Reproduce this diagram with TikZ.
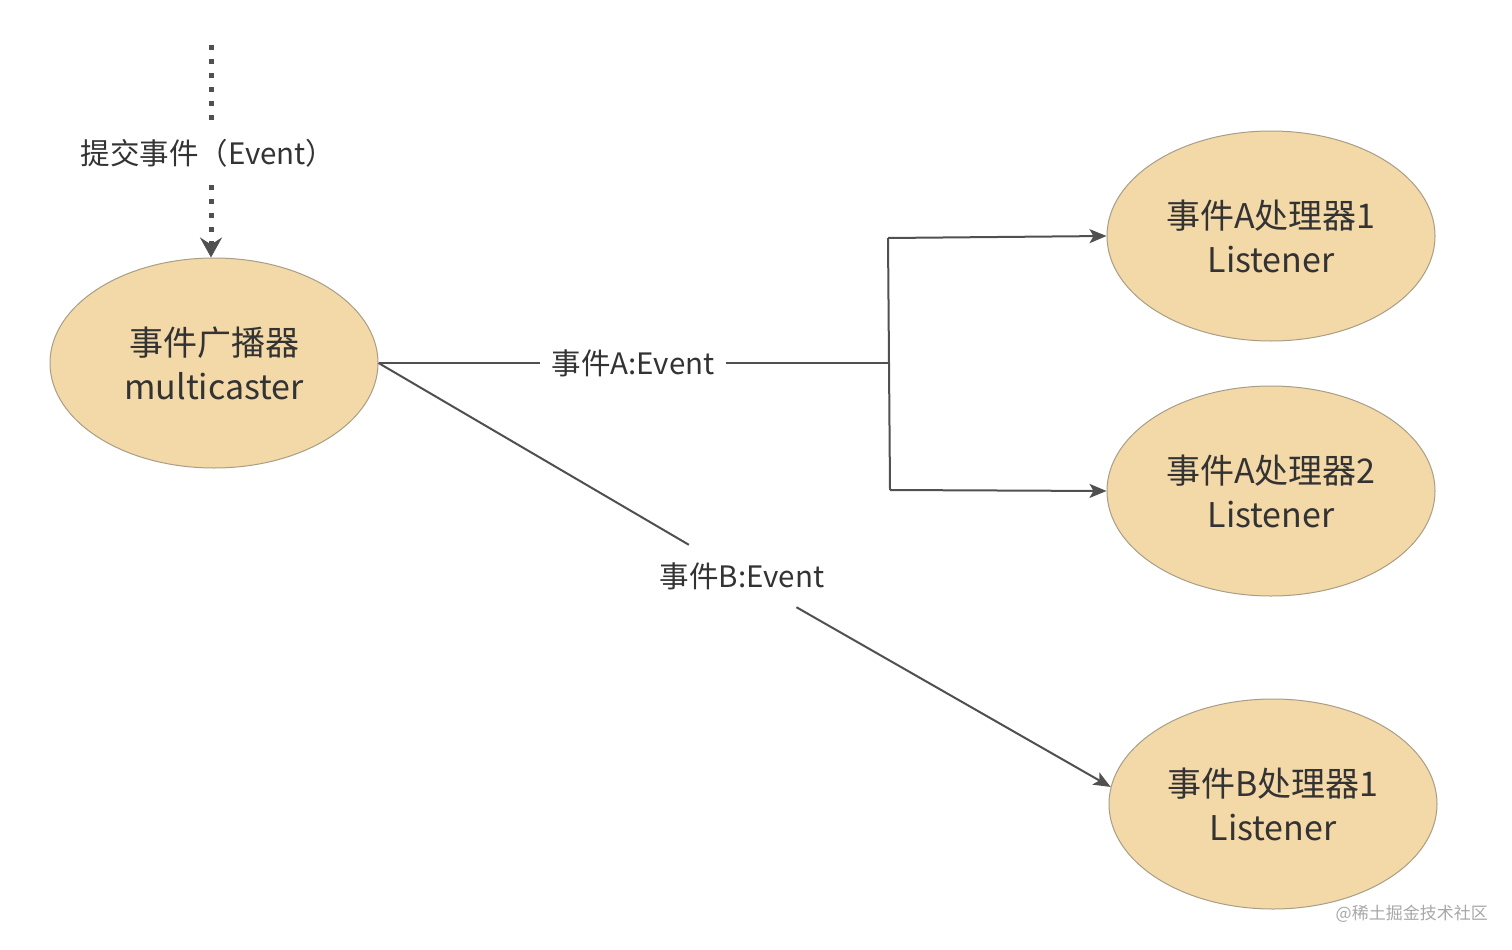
\documentclass[tikz,border=0pt]{standalone}
\usepackage{fontspec}
\setmainfont{Noto Sans CJK SC}
\usetikzlibrary{arrows.meta,shapes.geometric}
\definecolor{fillc}{HTML}{F3D8A8}
\definecolor{edgec}{HTML}{A89E86}
\definecolor{linec}{HTML}{505050}
\definecolor{txtc}{HTML}{333333}
\definecolor{wmc}{HTML}{A8A8A8}
\begin{document}
\begin{tikzpicture}[x=1pt,y=-1pt,
  ell/.style={ellipse, draw=edgec, fill=fillc, line width=1pt, minimum width=328pt, minimum height=210pt, inner sep=0pt, align=center, font=\fontsize{34}{44}\selectfont, text=txtc},
  lab/.style={font=\fontsize{29.5}{34}\selectfont, text=txtc, inner xsep=11pt, minimum height=62pt},
  conn/.style={draw=linec, line width=2pt},
  tip/.style={-{Stealth[length=17pt,width=14pt,inset=4pt]}},
  dots/.style={draw=linec, line width=5pt, dash pattern=on 5pt off 9pt},
  dtip/.style={-{Stealth[length=20pt,width=22pt,inset=7pt]}}]
\useasboundingbox (0,0) rectangle (1512,950);
\fill[white] (0,0) rectangle (1512,950);
\node[ell] (mc) at (214,363) {事件广播器\\multicaster};
\node[ell] (a1) at (1271,236) {事件A处理器1\\Listener};
\node[ell] (a2) at (1271,491) {事件A处理器2\\Listener};
\node[ell] (b1) at (1273,804) {事件B处理器1\\Listener};
\node[lab] (la) at (633,363) {事件A:Event};
\node[lab] (lb) at (742,576) {事件B:Event};
\node[lab, font=\fontsize{29.5}{34}\selectfont, minimum height=64pt] (ls) at (208,153) {提交事件（Event）};
\node[font=\fontsize{17}{20}\selectfont, text=wmc, anchor=east, inner sep=0pt] (wm) at (1488,914) {@稀土掘金技术社区};
\coordinate (j) at (888,363);
\coordinate (jt) at (888,238);
\coordinate (jb) at (890,490);
\coordinate (dt) at (211,45);
\draw[conn] (mc.east |- la.west) -- (la.west);
\draw[conn] (la.east) -- (j);
\draw[conn] (jt) -- (jb);
\draw[conn,tip] (jt) -- (a1.west);
\draw[conn,tip] (jb) -- (a2.west);
\draw[conn] (mc.east) -- (lb);
\draw[conn,tip] (lb) -- (b1.174);
\draw[dots] (dt) -- (dt |- ls.north);
\draw[dots,dtip] (dt |- ls.south) -- (dt |- mc.north);
\end{tikzpicture}
\end{document}
